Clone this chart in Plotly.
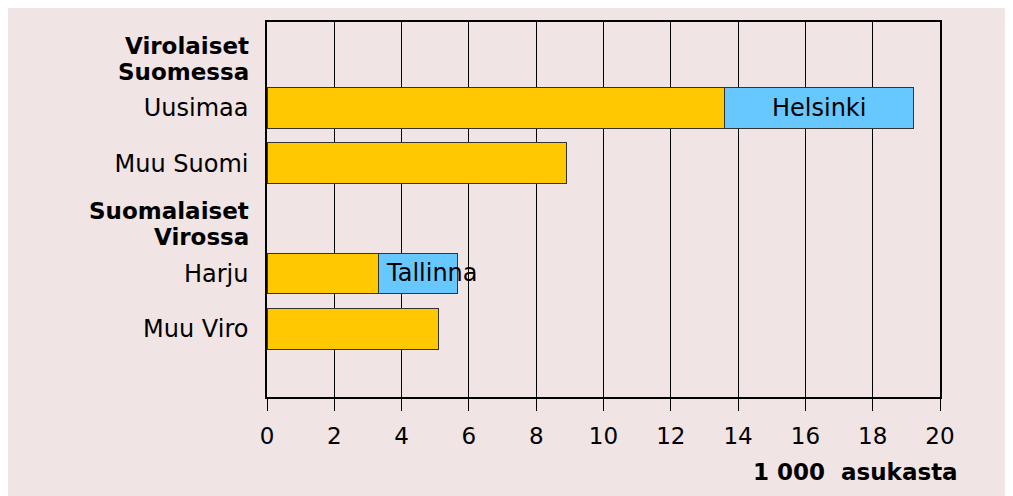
import plotly.graph_objects as go

# categories (top to bottom); group headers have an empty tick label
categories = ["Virolaiset Suomessa", "Uusimaa", "Muu Suomi",
              "Suomalaiset Virossa", "Harju", "Muu Viro"]
tick_labels = ["", "Uusimaa", "Muu Suomi", "", "Harju", "Muu Viro"]
headers = {"Virolaiset Suomessa": ["Virolaiset", "Suomessa"],
           "Suomalaiset Virossa": ["Suomalaiset", "Virossa"]}
# 1 000 residents
region_values = [None, 13.6, 8.9, None, 3.3, 5.1]
capital_values = [None, 5.6, None, None, 2.35, None]
capital_names = [None, "Helsinki", None, None, "Tallinna", None]
x_ticks = [0, 2, 4, 6, 8, 10, 12, 14, 16, 18, 20]

pink = "#F0E4E5"
yellow = "#FFC800"
blue = "#66C8FF"
font_main = "DejaVu Sans"

fig = go.Figure()
fig.add_trace(go.Bar(y=categories, x=region_values, orientation="h",
                     marker=dict(color=yellow, line=dict(color="#333333", width=1)),
                     width=0.74, hoverinfo="x+y", showlegend=False))
fig.add_trace(go.Bar(y=categories, x=capital_values, orientation="h",
                     marker=dict(color=blue, line=dict(color="#333333", width=1)),
                     width=0.74, hoverinfo="x+y", showlegend=False))

# labels for the capital parts of the bars
anchors = {"Helsinki": "center", "Tallinna": "left"}
for cat, base, part, name in zip(categories, region_values, capital_values, capital_names):
    if name is None:
        continue
    if anchors[name] == "center":
        xpos, shift = base + part / 2, 0
    else:
        xpos, shift = base, 6
    fig.add_annotation(x=xpos, y=cat, text=name, showarrow=False,
                       xanchor=anchors[name], xshift=shift,
                       font=dict(family=font_main, size=24, color="black"))

# bold group headers, two tight lines each
for cat, lines in headers.items():
    for line, dy in zip(lines, [7, -19]):
        fig.add_annotation(x=0, y=cat, xref="paper", yref="y", text="<b>%s</b>" % line,
                           showarrow=False, xanchor="right", yanchor="middle",
                           xshift=-16, yshift=dy,
                           font=dict(family=font_main, size=23, color="black"))

# unit label
fig.add_annotation(x=1.0297, y=-0.2, xref="paper", yref="paper",
                   text="<b>1 000  asukasta</b>", showarrow=False,
                   xanchor="right", yanchor="middle",
                   font=dict(family=font_main, size=23, color="black"))

fig.update_layout(
    width=1021, height=504,
    margin=dict(l=259, r=89, t=14, b=115),
    paper_bgcolor=pink,
    plot_bgcolor=pink,
    barmode="stack",
    font=dict(family=font_main, size=24, color="black"),
    xaxis=dict(range=[0, 20], tickvals=x_ticks, showgrid=True,
               gridcolor="black", gridwidth=1, zeroline=False,
               showline=True, linecolor="black", linewidth=1.5, mirror=True,
               ticks="outside", ticklen=12, tickcolor="black",
               ticklabelstandoff=6,
               tickfont=dict(family=font_main, size=23)),
    yaxis=dict(type="category", categoryorder="array", categoryarray=categories,
               tickvals=categories, ticktext=tick_labels,
               range=[6.24, -0.56], showgrid=False, zeroline=False,
               showline=True, linecolor="black", linewidth=1.5, mirror=True,
               ticks="", ticklabelstandoff=12,
               tickfont=dict(family=font_main, size=24)),
)

fig.write_html("out.html", default_width="1021px", default_height="504px")
